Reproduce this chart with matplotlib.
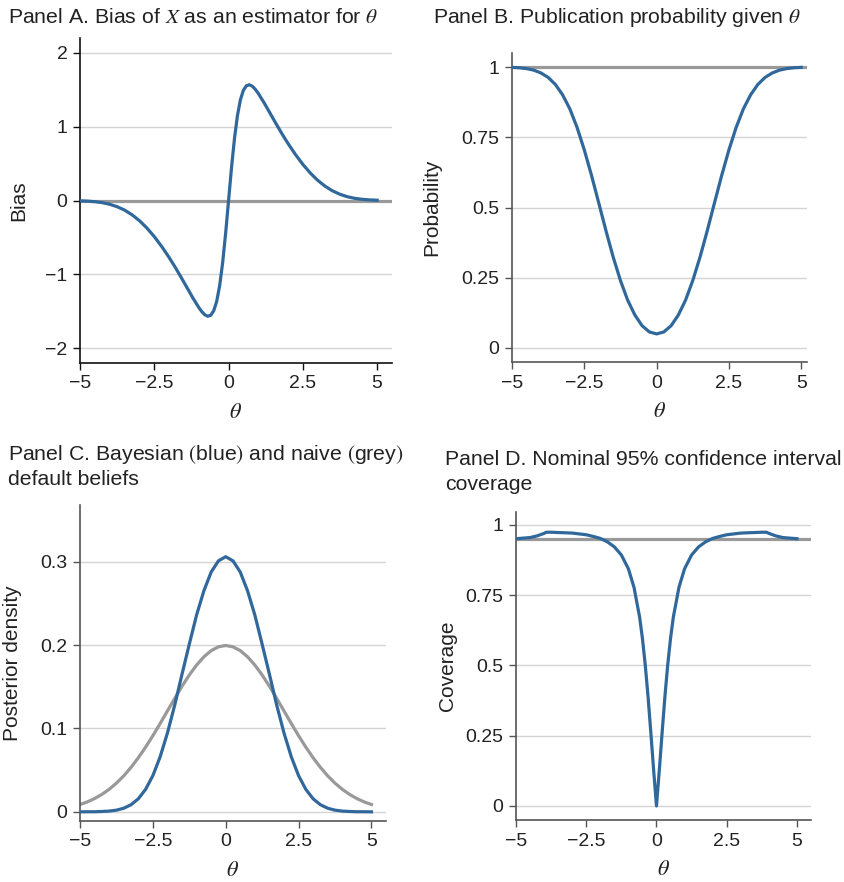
import matplotlib
matplotlib.use("Agg")
import matplotlib.pyplot as plt

plt.rcParams['font.family'] = ['Liberation Sans', 'DejaVu Sans']
plt.rcParams['mathtext.fontset'] = 'stix'

################################################################################
# Data
################################################################################

# Panel A: bias of X
theta_a = [-5, -4.75, -4.5, -4.25, -4, -3.75, -3.5, -3.25, -3, -2.75, -2.5, -2.25,
           -2, -1.8, -1.6, -1.4, -1.2, -1, -0.9, -0.8, -0.7, -0.6, -0.5, -0.4,
           -0.3, -0.2, -0.1, 0, 0.1, 0.2, 0.3, 0.4, 0.5, 0.6, 0.7, 0.8, 0.9, 1,
           1.2, 1.4, 1.6, 1.8, 2, 2.25, 2.5, 2.75, 3, 3.25, 3.5, 3.75, 4, 4.25,
           4.5, 4.75, 5]
bias = [-0.004, -0.008, -0.016, -0.029, -0.051, -0.084, -0.130, -0.193, -0.273,
        -0.372, -0.489, -0.623, -0.772, -0.901, -1.038, -1.179, -1.320, -1.450,
        -1.505, -1.547, -1.567, -1.553, -1.493, -1.366, -1.153, -0.844, -0.449,
        0.0, 0.449, 0.844, 1.153, 1.366, 1.493, 1.553, 1.567, 1.547, 1.505,
        1.450, 1.320, 1.179, 1.038, 0.901, 0.772, 0.623, 0.489, 0.372, 0.273,
        0.193, 0.130, 0.084, 0.051, 0.029, 0.016, 0.008, 0.004]

# Panels B and C share the same theta grid
theta_q = [-5, -4.75, -4.5, -4.25, -4, -3.75, -3.5, -3.25, -3, -2.75, -2.5, -2.25,
           -2, -1.75, -1.5, -1.25, -1, -0.75, -0.5, -0.25, 0, 0.25, 0.5, 0.75,
           1, 1.25, 1.5, 1.75, 2, 2.25, 2.5, 2.75, 3, 3.25, 3.5, 3.75, 4, 4.25,
           4.5, 4.75, 5]
pub_prob = [0.9988, 0.9974, 0.9945, 0.989, 0.979, 0.963, 0.938, 0.901, 0.851,
            0.785, 0.705, 0.614, 0.516, 0.417, 0.323, 0.240, 0.170, 0.117, 0.079,
            0.057, 0.050, 0.057, 0.079, 0.117, 0.170, 0.240, 0.323, 0.417, 0.516,
            0.614, 0.705, 0.785, 0.851, 0.901, 0.938, 0.963, 0.979, 0.989, 0.9945,
            0.9974, 0.9988]

post_bayes = [0.0, 0.0001, 0.0001, 0.0004, 0.0009, 0.0020, 0.0043, 0.0085, 0.0156,
              0.0269, 0.0434, 0.066, 0.0945, 0.128, 0.165, 0.201, 0.236, 0.265,
              0.2875, 0.301, 0.306, 0.301, 0.2875, 0.265, 0.236, 0.201, 0.165,
              0.128, 0.0945, 0.066, 0.0434, 0.0269, 0.0156, 0.0085, 0.0043, 0.0020,
              0.0009, 0.0004, 0.0001, 0.0001, 0.0]
post_naive = [0.0088, 0.0119, 0.0159, 0.0209, 0.0270, 0.0344, 0.0431, 0.0533,
              0.0648, 0.0775, 0.0913, 0.1059, 0.1210, 0.1360, 0.1506, 0.1641,
              0.1760, 0.1859, 0.1933, 0.1979, 0.1995, 0.1979, 0.1933, 0.1859,
              0.1760, 0.1641, 0.1506, 0.1360, 0.1210, 0.1059, 0.0913, 0.0775,
              0.0648, 0.0533, 0.0431, 0.0344, 0.0270, 0.0209, 0.0159, 0.0119,
              0.0088]

# Panel D: coverage
theta_d = [-5, -4.75, -4.5, -4.25, -4, -3.92, -3.75, -3.5, -3.25, -3, -2.75, -2.5,
           -2.25, -2, -1.75, -1.5, -1.25, -1, -0.8, -0.6, -0.5, -0.4, -0.3, -0.2,
           -0.1, 0, 0.1, 0.2, 0.3, 0.4, 0.5, 0.6, 0.8, 1, 1.25, 1.5, 1.75, 2,
           2.25, 2.5, 2.75, 3, 3.25, 3.5, 3.75, 3.92, 4, 4.25, 4.5, 4.75, 5]
coverage = [0.951, 0.953, 0.955, 0.961, 0.970, 0.974, 0.974, 0.973, 0.972, 0.971,
            0.968, 0.965, 0.959, 0.952, 0.940, 0.922, 0.893, 0.844, 0.778, 0.672,
            0.596, 0.502, 0.389, 0.260, 0.126, 0.0, 0.126, 0.260, 0.389, 0.502,
            0.596, 0.672, 0.778, 0.844, 0.893, 0.922, 0.940, 0.952, 0.959, 0.965,
            0.968, 0.971, 0.972, 0.973, 0.974, 0.974, 0.970, 0.961, 0.955, 0.953,
            0.951]

x_ticks = [-5, -2.5, 0, 2.5, 5]
x_labels = ['\u22125', '\u22122.5', '0', '2.5', '5']

################################################################################
# Styling
################################################################################

BLUE = '#30689b'
GREY = '#999999'
GRID = '#d4d4d4'
TXT = '#222222'
LW = 2.3


def style_axes(ax, yticks, ylabels, ylim, xlim, ylabel, label_x, spine_col):
    ax.set_xlim(*xlim)
    ax.set_ylim(*ylim)
    ax.set_xticks(x_ticks)
    ax.set_xticklabels(x_labels)
    ax.set_yticks(yticks)
    ax.set_yticklabels(ylabels)
    for s in ['top', 'right']:
        ax.spines[s].set_visible(False)
    for s in ['left', 'bottom']:
        ax.spines[s].set_color(spine_col)
        ax.spines[s].set_linewidth(1.2)
    ax.tick_params(direction='out', length=5, width=1, colors=spine_col,
                   labelcolor=TXT, labelsize=14, pad=4)
    for yv in yticks:
        ax.axhline(yv, color=GRID, lw=1, zorder=0)
    ax.set_xlabel(r'$\theta$', fontsize=16, color=TXT, labelpad=7)
    ax.set_ylabel(ylabel, fontsize=15, color=TXT)
    ax.yaxis.set_label_coords(label_x, 0.5)


fig = plt.figure(figsize=(8.45, 8.82), dpi=100)
W, H = 845.0, 882.0


def px_axes(left, top, right, bottom):
    return fig.add_axes([left / W, 1 - bottom / H, (right - left) / W, (bottom - top) / H])


# Panel A
ax = px_axes(80, 38, 392, 363)
style_axes(ax, [-2, -1, 0, 1, 2], ['\u22122', '\u22121', '0', '1', '2'],
           (-2.2, 2.2), (-5, 5.5), 'Bias', -0.165, '#111111')
ax.axhline(0, color=GREY, lw=LW, zorder=2)
ax.plot(theta_a, bias, color=BLUE, lw=LW, zorder=3)

# Panel B
ax = px_axes(512, 53, 807, 362)
style_axes(ax, [0, 0.25, 0.5, 0.75, 1], ['0', '0.25', '0.5', '0.75', '1'],
           (-0.05, 1.05), (-5, 5.2), 'Probability', -0.24, '#555555')
ax.axhline(1, color=GREY, lw=LW, zorder=2)
ax.plot(theta_q, pub_prob, color=BLUE, lw=LW, zorder=3)

# Panel C
ax = px_axes(80, 505, 386, 821)
style_axes(ax, [0, 0.1, 0.2, 0.3], ['0', '0.1', '0.2', '0.3'],
           (-0.011, 0.368), (-5, 5.5), 'Posterior density', -0.19, '#555555')
ax.plot(theta_q, post_naive, color=GREY, lw=LW, zorder=2)
ax.plot(theta_q, post_bayes, color=BLUE, lw=LW, zorder=3)

# Panel D
ax = px_axes(516, 512, 811, 820)
style_axes(ax, [0, 0.25, 0.5, 0.75, 1], ['0', '0.25', '0.5', '0.75', '1'],
           (-0.05, 1.046), (-5, 5.5), 'Coverage', -0.2, '#555555')
ax.axhline(0.95, color=GREY, lw=LW, zorder=2)
ax.plot(theta_d, coverage, color=BLUE, lw=LW, zorder=3)

# Panel titles, placed in pixels (baseline)
def title(x, y, s):
    fig.text(x / W, 1 - y / H, s, fontsize=15.3, color=TXT, ha='left', va='baseline')


title(8, 23, r'Panel A. Bias of $X$ as an estimator for $\theta$')
title(433, 23, r'Panel B. Publication probability given $\theta$')
title(8, 460, r'Panel C. Bayesian $($blue$)$ and naive $($grey$)$')
title(8, 485, 'default beliefs')
title(445, 465, 'Panel D. Nominal 95% confidence interval')
title(445, 490, 'coverage')

fig.savefig('out.png', dpi=100)
